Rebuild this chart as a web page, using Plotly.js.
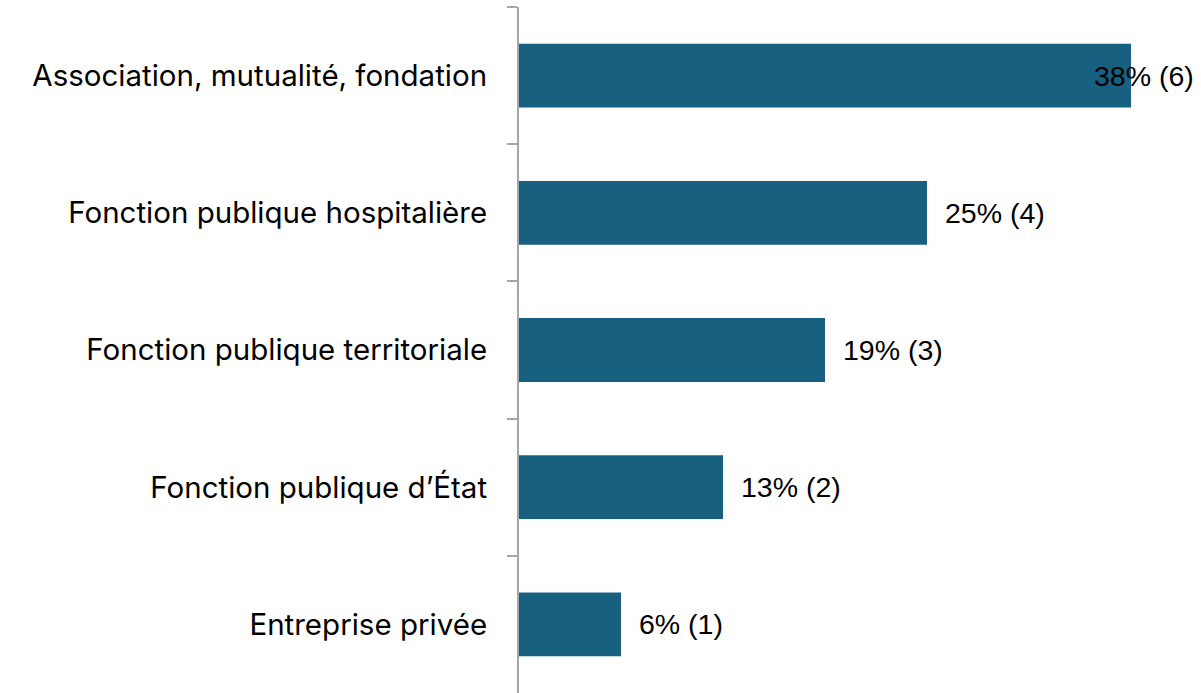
<!DOCTYPE html>
<html>
<head>
<meta charset="utf-8">
<script src="https://cdn.plot.ly/plotly-3.0.1.min.js"></script>
<style>html,body{margin:0;padding:0;background:#fff;}#chart{width:1201px;height:693px;}</style>
</head>
<body>
<div id="chart"></div>
<script>
// Data (top to bottom)
var categories = [
  "Association, mutualité, fondation",
  "Fonction publique hospitalière",
  "Fonction publique territoriale",
  "Fonction publique d’État",
  "Entreprise privée"
];
var shares = [0.375, 0.25, 0.1875, 0.125, 0.0625];
var percentLabels = [38, 25, 19, 13, 6];
var counts = [6, 4, 3, 2, 1];

var W = 1201, H = 693;
var marginL = 519, marginR = 0, marginT = 7, marginB = 0;
var xMax = 0.4179;
var catFont = "Inter, 'Open Sans', sans-serif";
var catSize = 29.5;
var lblFont = "'Liberation Sans', Arial, sans-serif";
var lblSize = 28.5;
var pxPerUnit = (W - marginL - marginR) / xMax;

var texts = percentLabels.map(function(p, i){ return p + "% (" + counts[i] + ")"; });

var annotations = categories.map(function(c, i){
  var estWidth = texts[i].length * 0.5 * lblSize;
  var endPx = shares[i] * pxPerUnit + 19 + estWidth;
  var overflow = endPx > (W - marginL - marginR);
  return {
    x: overflow ? xMax : shares[i],
    y: c,
    xref: "x", yref: "y",
    text: texts[i],
    showarrow: false,
    xanchor: overflow ? "right" : "left",
    xshift: overflow ? -5 : 16,
    font: {family: lblFont, size: lblSize, color: "#000"}
  };
});

var trace = {
  type: "bar",
  orientation: "h",
  x: shares,
  y: categories,
  marker: {color: "#17607f"},
  hoverinfo: "none"
};

var layout = {
  width: W, height: H,
  margin: {l: marginL, r: marginR, t: marginT, b: marginB, pad: 0},
  paper_bgcolor: "#fff", plot_bgcolor: "#fff",
  showlegend: false,
  bargap: 0.535,
  font: {family: catFont, size: catSize, color: "#000"},
  xaxis: {range: [0, xMax], visible: false, fixedrange: true},
  yaxis: {
    type: "category",
    autorange: "reversed",
    showline: true, linecolor: "#a6a6a6", linewidth: 2,
    ticks: "outside", ticklen: 10, tickwidth: 2, tickcolor: "#a6a6a6",
    tickson: "boundaries",
    ticklabelstandoff: 24,
    showgrid: false, zeroline: false,
    tickfont: {family: catFont, size: catSize, color: "#000"},
    automargin: false
  },
  annotations: annotations
};

Plotly.newPlot("chart", [trace], layout, {displayModeBar: false, staticPlot: true});
</script>
</body>
</html>
